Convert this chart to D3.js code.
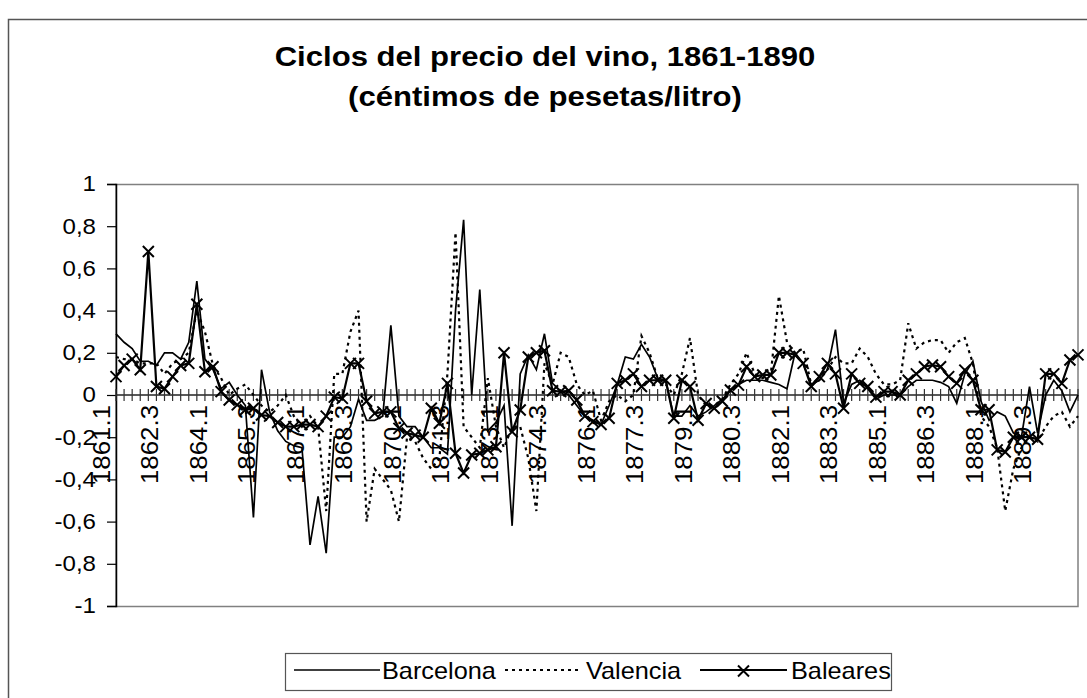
<!DOCTYPE html>
<html><head><meta charset="utf-8">
<script src="https://cdn.jsdelivr.net/npm/d3@7"></script>
<style>
body{margin:0;background:#fff}
text{font-family:"Liberation Sans", Arial, sans-serif;fill:#000}
</style>
</head><body><svg id="c" width="1087" height="698"></svg>
<script>
// ---------- data ----------
const years = d3.range(1861, 1891);
const quarters = [1, 2, 3, 4];
const categories = [];
years.forEach(y => quarters.forEach(q => categories.push(y + "." + q)));

const barcelona = [
 0.29,0.25,0.22,0.16,0.16,0.14,0.2,0.2,0.17,0.25,
 0.54,0.17,0.12,0.03,0.06,0.0,-0.05,-0.58,0.12,-0.08,
 -0.17,-0.22,-0.24,-0.25,-0.71,-0.48,-0.75,-0.2,-0.2,-0.15,
 -0.02,-0.12,-0.12,-0.1,0.33,-0.1,-0.15,-0.15,-0.2,-0.25,
 -0.25,-0.28,0.4,0.83,0.0,0.5,-0.17,-0.13,-0.05,-0.62,
 0.1,0.19,0.12,0.29,0.055,0.02,0.0,-0.05,-0.1,-0.12,
 -0.14,-0.05,0.05,0.18,0.17,0.24,0.18,0.08,0.07,-0.1,
 -0.1,-0.05,-0.1,-0.08,-0.05,-0.02,0.02,0.05,0.07,0.07,
 0.07,0.06,0.05,0.03,0.2,0.15,0.05,0.07,0.12,0.31,
 -0.04,0.05,0.07,0.03,-0.02,0.0,0.0,0.0,0.04,0.07,
 0.07,0.07,0.06,0.04,-0.04,0.1,0.16,-0.03,-0.12,-0.08,
 -0.1,-0.18,-0.2,0.04,-0.18,0.0,0.07,0.02,-0.08,0.0
];
const valencia = [
 0.18,0.17,0.17,0.15,0.15,0.15,0.1,0.15,0.17,0.2,
 0.4,0.3,0.14,0.08,0.0,0.03,0.05,0.0,-0.05,-0.08,
 -0.05,0.0,-0.1,-0.15,-0.1,-0.15,-0.55,0.1,0.1,0.3,
 0.4,-0.6,-0.35,-0.4,-0.45,-0.6,-0.2,-0.22,-0.3,-0.35,
 -0.3,0.1,0.77,-0.15,-0.2,-0.25,0.08,-0.15,-0.25,-0.15,
 -0.15,-0.3,-0.55,0.15,0.05,0.2,0.18,0.05,0.0,0.02,
 -0.12,-0.03,0.0,-0.03,0.0,0.28,0.2,0.08,0.05,0.0,
 0.1,0.27,0.0,-0.05,-0.05,-0.02,0.05,0.1,0.2,0.1,
 0.08,0.1,0.47,0.25,0.2,0.22,0.05,0.07,0.12,0.18,
 0.15,0.15,0.22,0.18,0.1,0.05,0.05,0.07,0.34,0.22,
 0.25,0.26,0.26,0.2,0.25,0.27,0.15,-0.1,-0.15,-0.25,
 -0.55,-0.35,-0.25,-0.2,-0.22,-0.15,-0.1,-0.08,-0.15,-0.1
];
const baleares = [
 0.087,0.14,0.17,0.12,0.68,0.04,0.03,0.087,0.14,0.15,
 0.43,0.11,0.134,0.016,-0.024,-0.047,-0.07,-0.063,-0.095,-0.1,
 -0.13,-0.15,-0.15,-0.14,-0.14,-0.15,-0.1,-0.01,-0.016,0.15,
 0.15,-0.03,-0.087,-0.08,-0.08,-0.158,-0.18,-0.19,-0.2,-0.063,
 -0.134,0.055,-0.276,-0.37,-0.284,-0.276,-0.26,-0.245,0.2,-0.174,
 -0.071,0.18,0.2,0.21,0.02,0.016,0.02,-0.024,-0.1,-0.126,
 -0.14,-0.11,0.055,0.07,0.1,0.04,0.07,0.07,0.07,-0.11,
 0.07,0.04,-0.12,-0.04,-0.063,-0.03,0.024,0.047,0.134,0.087,
 0.095,0.095,0.2,0.2,0.19,0.15,0.04,0.087,0.15,0.1,
 -0.063,0.1,0.055,0.04,-0.01,0.016,0.016,0.0,0.07,0.1,
 0.134,0.142,0.134,0.087,0.055,0.118,0.07,-0.07,-0.07,-0.26,
 -0.27,-0.2,-0.2,-0.2,-0.21,0.1,0.1,0.055,0.166,0.19
];
const yTicks = [1, 0.8, 0.6, 0.4, 0.2, 0, -0.2, -0.4, -0.6, -0.8, -1];
const labelEvery = 6;
const titleLines = ["Ciclos del precio del vino, 1861-1890", "(céntimos de pesetas/litro)"];
const seriesNames = ["Barcelona", "Valencia", "Baleares"];

// ---------- drawing ----------
const svg = d3.select("#c");
const L = 116, R = 1078, T = 184, B = 606;
const x = d3.scalePoint().domain(categories).range([L, R]);
const y = d3.scaleLinear().domain([-1, 1]).range([B, T]);
const loc = d3.formatLocale({decimal: ",", thousands: ".", grouping: [3], currency: ["", ""], minus: "-"});
const fmt = loc.format("");

svg.append("rect").attr("width", 1087).attr("height", 698).attr("fill", "#fff");
// outer chart border
svg.append("rect").attr("x", 8.5).attr("y", 19.5).attr("width", 1100).attr("height", 700)
  .attr("fill", "none").attr("stroke", "#555").attr("stroke-width", 1.5);

// title
svg.selectAll("text.title").data(titleLines).join("text")
  .attr("class", "title")
  .attr("transform", (d, i) => `translate(545,${66 + i * 40}) scale(1.11,1)`)
  .attr("text-anchor", "middle")
  .style("font-size", "28px").style("font-weight", "bold")
  .text(d => d);

// plot area border
svg.append("rect").attr("x", L).attr("y", T + 0.5).attr("width", R - L).attr("height", B - T)
  .attr("fill", "none").attr("stroke", "#808080").attr("stroke-width", 1.5);

// y axis
const yAxis = svg.append("g").attr("transform", `translate(${L},0)`)
  .call(d3.axisLeft(y).tickValues(yTicks).tickFormat(fmt).tickSize(9).tickPadding(0));
yAxis.select(".domain").attr("stroke", "#000").attr("stroke-width", 1.5);
yAxis.selectAll(".tick line").attr("stroke", "#000").attr("stroke-width", 1.2);
yAxis.selectAll(".tick text")
  .attr("x", null)
  .attr("transform", "translate(-20,0) scale(1.12,1)")
  .style("font-size", "21.5px")
  .attr("font-family", null);

// x axis at zero
const y0 = y(0);
svg.append("line").attr("x1", L).attr("x2", R).attr("y1", y0).attr("y2", y0)
  .attr("stroke", "#222").attr("stroke-width", 1.5);
svg.append("g").selectAll("line").data(categories).join("line")
  .attr("x1", d => x(d)).attr("x2", d => x(d))
  .attr("y1", y0 - 6).attr("y2", y0 + 6)
  .attr("stroke", "#333").attr("stroke-width", 1.2);
svg.append("g").selectAll("text").data(categories.filter((d, i) => i % labelEvery === 0)).join("text")
  .attr("transform", d => `translate(${x(d) - 15 + 8.5},${y0 + 10}) rotate(-90) scale(1.1,1)`)
  .attr("text-anchor", "end")
  .style("font-size", "23.5px")
  .text(d => d);

// lines
const line = d3.line().x((d, i) => x(categories[i])).y(d => y(d));
svg.append("path").datum(valencia).attr("d", line)
  .attr("fill", "none").attr("stroke", "#000").attr("stroke-width", 2.2)
  .attr("stroke-dasharray", "3,4");
svg.append("path").datum(barcelona).attr("d", line)
  .attr("fill", "none").attr("stroke", "#000").attr("stroke-width", 1.7);
svg.append("path").datum(baleares).attr("d", line)
  .attr("fill", "none").attr("stroke", "#000").attr("stroke-width", 2.2);
const xMark = (cx, cy, s) => `M${cx - s},${cy - s}L${cx + s},${cy + s}M${cx - s},${cy + s}L${cx + s},${cy - s}`;
svg.append("g").selectAll("path").data(baleares).join("path")
  .attr("d", (d, i) => xMark(x(categories[i]), y(d), 5.5))
  .attr("stroke", "#000").attr("stroke-width", 2).attr("fill", "none");

// legend
const lg = svg.append("g");
lg.append("rect").attr("x", 285.5).attr("y", 653.5).attr("width", 606).attr("height", 37)
  .attr("fill", "#fff").attr("stroke", "#555").attr("stroke-width", 1.2);
const legendItems = [
  {name: seriesNames[0], x1: 294, x2: 380, tx: 382, dash: null, mark: false, w: 1.7},
  {name: seriesNames[1], x1: 505, x2: 580, tx: 586, dash: "3,4", mark: false, w: 2.2},
  {name: seriesNames[2], x1: 700, x2: 787, tx: 791, dash: null, mark: true, w: 2.2}
];
const ly = 670;
legendItems.forEach(it => {
  lg.append("line").attr("x1", it.x1).attr("x2", it.x2).attr("y1", ly).attr("y2", ly)
    .attr("stroke", "#000").attr("stroke-width", it.w).attr("stroke-dasharray", it.dash);
  if (it.mark) lg.append("path").attr("d", xMark((it.x1 + it.x2) / 2, ly + 1, 5.5))
    .attr("stroke", "#000").attr("stroke-width", 2);
  lg.append("text").attr("transform", `translate(${it.tx},678.5) scale(1.1,1)`)
    .style("font-size", "23px").text(it.name);
});
</script></body></html>
